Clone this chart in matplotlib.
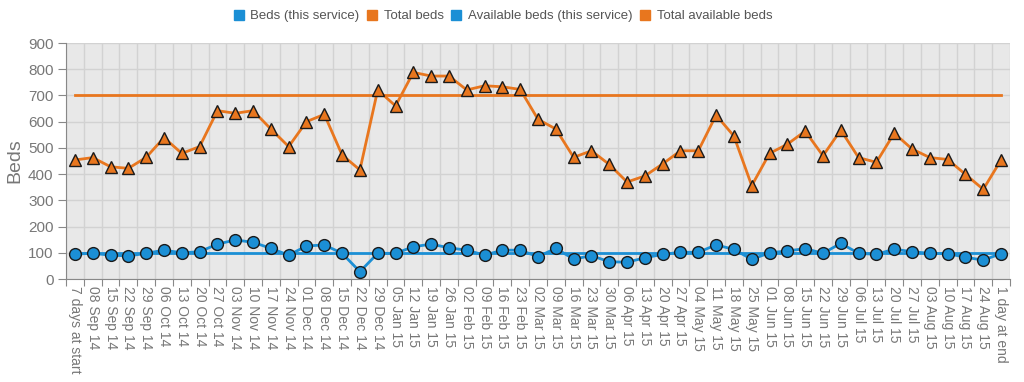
import matplotlib
matplotlib.use('Agg')
import matplotlib.pyplot as plt
from matplotlib.lines import Line2D

plt.rcParams['font.family'] = ['Liberation Sans', 'DejaVu Sans']

# Week labels
weeks = ['08 Sep 14', '15 Sep 14', '22 Sep 14', '29 Sep 14',
         '06 Oct 14', '13 Oct 14', '20 Oct 14', '27 Oct 14',
         '03 Nov 14', '10 Nov 14', '17 Nov 14', '24 Nov 14',
         '01 Dec 14', '08 Dec 14', '15 Dec 14', '22 Dec 14', '29 Dec 14',
         '05 Jan 15', '12 Jan 15', '19 Jan 15', '26 Jan 15',
         '02 Feb 15', '09 Feb 15', '16 Feb 15', '23 Feb 15',
         '02 Mar 15', '09 Mar 15', '16 Mar 15', '23 Mar 15', '30 Mar 15',
         '06 Apr 15', '13 Apr 15', '20 Apr 15', '27 Apr 15',
         '04 May 15', '11 May 15', '18 May 15', '25 May 15',
         '01 Jun 15', '08 Jun 15', '15 Jun 15', '22 Jun 15', '29 Jun 15',
         '06 Jul 15', '13 Jul 15', '20 Jul 15', '27 Jul 15',
         '03 Aug 15', '10 Aug 15', '17 Aug 15', '24 Aug 15']
labels = ['7 days at start'] + weeks + ['1 day at end']

beds_service = 100
total_beds = 700

available_service = [95, 98, 91, 88, 98, 110, 100, 104, 133, 149, 140, 117, 91,
                     126, 130, 98, 28, 98, 98, 123, 133, 119, 110, 91, 110, 110,
                     85, 117, 76, 89, 66, 64, 81, 94, 102, 102, 130, 113, 75,
                     100, 107, 116, 98, 136, 98, 94, 114, 104, 98, 97, 83, 72, 97]
total_available = [454, 463, 428, 422, 464, 539, 479, 505, 642, 632, 642, 572,
                   505, 600, 628, 473, 416, 721, 660, 788, 774, 774, 721, 737,
                   733, 723, 609, 572, 464, 489, 437, 370, 393, 439, 489, 489,
                   625, 545, 356, 479, 514, 564, 470, 568, 463, 445, 556, 496,
                   463, 456, 399, 342, 454]

blue = '#1b8fd5'
orange = '#e8761e'
grey_text = '#777777'

n = len(labels)
x = list(range(n))

fig = plt.figure(figsize=(10.24, 3.82), dpi=100)
ax = fig.add_axes([0.0645, 0.2696, 0.9218, 0.6178])
ax.set_facecolor('#e8e8e8')

ax.plot(x, [beds_service] * n, color=blue, lw=2, zorder=3)
ax.plot(x, [total_beds] * n, color=orange, lw=2, zorder=3)
ax.plot(x, available_service, color=blue, lw=2, marker='o', ms=8.5,
        markerfacecolor=blue, markeredgecolor='#1a1a1a', markeredgewidth=1, zorder=4)
ax.plot(x, total_available, color=orange, lw=2, marker='^', ms=8.5,
        markerfacecolor=orange, markeredgecolor='#1a1a1a', markeredgewidth=1, zorder=4)

ax.set_xlim(-0.5, n - 0.5)
ax.set_ylim(0, 900)
ax.set_yticks(range(0, 1000, 100))

# grid at category boundaries
ax.set_xticks([i - 0.5 for i in range(n + 1)], minor=False)
ax.set_xticklabels([])
ax.set_xticks(x, minor=True)
ax.set_xticklabels(labels, minor=True, rotation=-90, fontsize=10, color=grey_text)
ax.tick_params(axis='x', which='minor', length=0, pad=5)
ax.tick_params(axis='x', which='major', length=5, color='#888888')
ax.tick_params(axis='y', length=6, color='#888888', labelsize=11, labelcolor=grey_text,
               pad=3)
ax.grid(True, which='major', color='#d2d2d2', lw=1)
ax.set_axisbelow(True)

for s in ['top', 'right']:
    ax.spines[s].set_visible(False)
for s in ['left', 'bottom']:
    ax.spines[s].set_color('#888888')

ax.set_ylabel('Beds', fontsize=14, color=grey_text)
ax.yaxis.set_label_coords(-0.045, 0.5)

handles = [Line2D([], [], marker='s', ls='', color=c, ms=7)
           for c in [blue, orange, blue, orange]]
names = ['Beds (this service)', 'Total beds', 'Available beds (this service)',
         'Total available beds']
fig.legend(handles, names, loc='upper center', bbox_to_anchor=(0.49, 1.005), ncol=4,
           frameon=False, fontsize=9.5, labelcolor='#555555', handletextpad=0.3,
           handlelength=1.2, columnspacing=0.35)

fig.savefig('out.png', dpi=100, facecolor='white')
